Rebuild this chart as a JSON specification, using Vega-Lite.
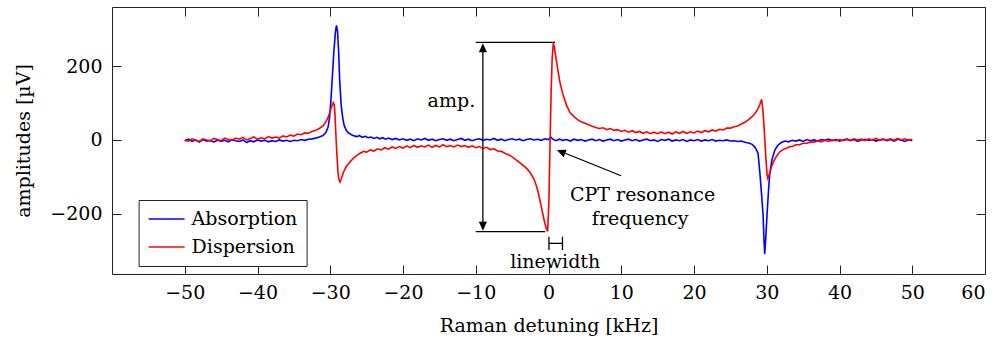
{
"$schema": "https://vega.github.io/schema/vega-lite/v6.json",
"width": 873, "height": 267,
"autosize": "none",
"padding": {"left": 112, "top": 7, "right": 18, "bottom": 66},
"config": {
  "view": {"stroke": "#222", "strokeWidth": 1},
  "font": "DejaVu Serif",
  "axis": {"labelFont": "DejaVu Serif", "labelFontSize": 19, "labelColor": "#000", "titleFont": "DejaVu Serif", "titleFontSize": 19, "titleFontWeight": "normal", "titleColor": "#000", "tickColor": "#222", "tickWidth": 1, "tickSize": -9, "domain": false, "grid": false},
  "legend": {"labelFont": "DejaVu Serif", "labelFontSize": 19, "labelColor": "#000"}
},
"datasets": {
"curves": [
{"s":"Absorption","x":-50,"y":-3},{"s":"Absorption","x":-49.5,"y":2},{"s":"Absorption","x":-49,"y":-4},{"s":"Absorption","x":-48.5,"y":0},{"s":"Absorption","x":-48,"y":-6},{"s":"Absorption","x":-47.5,"y":1},{"s":"Absorption","x":-47,"y":-3},{"s":"Absorption","x":-46.5,"y":-1},{"s":"Absorption","x":-46,"y":-6},{"s":"Absorption","x":-45.5,"y":0},{"s":"Absorption","x":-45,"y":-4},{"s":"Absorption","x":-44.5,"y":-1},{"s":"Absorption","x":-44,"y":-5},{"s":"Absorption","x":-43.5,"y":1},{"s":"Absorption","x":-43,"y":-2},{"s":"Absorption","x":-42.5,"y":-4},{"s":"Absorption","x":-42,"y":0},{"s":"Absorption","x":-41.5,"y":-7},{"s":"Absorption","x":-41,"y":-2},{"s":"Absorption","x":-40.5,"y":-5},{"s":"Absorption","x":-40,"y":0},{"s":"Absorption","x":-39.5,"y":-3},{"s":"Absorption","x":-39,"y":-1},{"s":"Absorption","x":-38.5,"y":-5},{"s":"Absorption","x":-38,"y":-2},{"s":"Absorption","x":-37.5,"y":-4},{"s":"Absorption","x":-37,"y":0},{"s":"Absorption","x":-36.5,"y":-3},{"s":"Absorption","x":-36,"y":-1},{"s":"Absorption","x":-35.5,"y":-4},{"s":"Absorption","x":-35,"y":-1},{"s":"Absorption","x":-34.5,"y":-2},{"s":"Absorption","x":-34,"y":1},{"s":"Absorption","x":-33.5,"y":-1},{"s":"Absorption","x":-33,"y":2},{"s":"Absorption","x":-32.5,"y":3},{"s":"Absorption","x":-32,"y":5},{"s":"Absorption","x":-31.5,"y":8},{"s":"Absorption","x":-31,"y":12},{"s":"Absorption","x":-30.6,"y":20},{"s":"Absorption","x":-30.3,"y":35},{"s":"Absorption","x":-30.1,"y":60},{"s":"Absorption","x":-29.9,"y":110},{"s":"Absorption","x":-29.7,"y":175},{"s":"Absorption","x":-29.5,"y":240},{"s":"Absorption","x":-29.3,"y":290},{"s":"Absorption","x":-29.15,"y":310},{"s":"Absorption","x":-29.0,"y":295},{"s":"Absorption","x":-28.85,"y":240},{"s":"Absorption","x":-28.7,"y":160},{"s":"Absorption","x":-28.5,"y":95},{"s":"Absorption","x":-28.3,"y":62},{"s":"Absorption","x":-28.1,"y":40},{"s":"Absorption","x":-27.8,"y":26},{"s":"Absorption","x":-27.5,"y":19},{"s":"Absorption","x":-27.1,"y":14},{"s":"Absorption","x":-26.7,"y":11},{"s":"Absorption","x":-26.3,"y":9},{"s":"Absorption","x":-26,"y":12},{"s":"Absorption","x":-25.6,"y":7},{"s":"Absorption","x":-25.2,"y":10},{"s":"Absorption","x":-24.8,"y":6},{"s":"Absorption","x":-24.4,"y":8},{"s":"Absorption","x":-24,"y":4},{"s":"Absorption","x":-23.6,"y":7},{"s":"Absorption","x":-23.2,"y":3},{"s":"Absorption","x":-22.8,"y":6},{"s":"Absorption","x":-22.4,"y":2},{"s":"Absorption","x":-22,"y":5},{"s":"Absorption","x":-21.5,"y":1},{"s":"Absorption","x":-21,"y":4},{"s":"Absorption","x":-20.5,"y":0},{"s":"Absorption","x":-20,"y":3},{"s":"Absorption","x":-19.5,"y":-1},{"s":"Absorption","x":-19,"y":2},{"s":"Absorption","x":-18.5,"y":-2},{"s":"Absorption","x":-18,"y":3},{"s":"Absorption","x":-17.5,"y":0},{"s":"Absorption","x":-17,"y":4},{"s":"Absorption","x":-16.5,"y":-1},{"s":"Absorption","x":-16,"y":2},{"s":"Absorption","x":-15.5,"y":-2},{"s":"Absorption","x":-15,"y":1},{"s":"Absorption","x":-14.5,"y":3},{"s":"Absorption","x":-14,"y":-1},{"s":"Absorption","x":-13.5,"y":2},{"s":"Absorption","x":-13,"y":-2},{"s":"Absorption","x":-12.5,"y":1},{"s":"Absorption","x":-12,"y":4},{"s":"Absorption","x":-11.5,"y":-1},{"s":"Absorption","x":-11,"y":2},{"s":"Absorption","x":-10.5,"y":-2},{"s":"Absorption","x":-10,"y":1},{"s":"Absorption","x":-9.5,"y":3},{"s":"Absorption","x":-9,"y":-1},{"s":"Absorption","x":-8.5,"y":2},{"s":"Absorption","x":-8,"y":0},{"s":"Absorption","x":-7.5,"y":4},{"s":"Absorption","x":-7,"y":-1},{"s":"Absorption","x":-6.5,"y":2},{"s":"Absorption","x":-6,"y":-2},{"s":"Absorption","x":-5.5,"y":1},{"s":"Absorption","x":-5,"y":3},{"s":"Absorption","x":-4.5,"y":0},{"s":"Absorption","x":-4,"y":2},{"s":"Absorption","x":-3.5,"y":-2},{"s":"Absorption","x":-3,"y":1},{"s":"Absorption","x":-2.5,"y":3},{"s":"Absorption","x":-2,"y":0},{"s":"Absorption","x":-1.5,"y":2},{"s":"Absorption","x":-1,"y":-1},{"s":"Absorption","x":-0.5,"y":3},{"s":"Absorption","x":0,"y":1},{"s":"Absorption","x":0.3,"y":8},{"s":"Absorption","x":0.6,"y":2},{"s":"Absorption","x":1,"y":-2},{"s":"Absorption","x":1.5,"y":2},{"s":"Absorption","x":2,"y":-1},{"s":"Absorption","x":2.5,"y":1},{"s":"Absorption","x":3,"y":-3},{"s":"Absorption","x":3.5,"y":2},{"s":"Absorption","x":4,"y":-1},{"s":"Absorption","x":4.5,"y":1},{"s":"Absorption","x":5,"y":-3},{"s":"Absorption","x":5.5,"y":0},{"s":"Absorption","x":6,"y":2},{"s":"Absorption","x":6.5,"y":-2},{"s":"Absorption","x":7,"y":1},{"s":"Absorption","x":7.5,"y":-3},{"s":"Absorption","x":8,"y":0},{"s":"Absorption","x":8.5,"y":2},{"s":"Absorption","x":9,"y":-2},{"s":"Absorption","x":9.5,"y":1},{"s":"Absorption","x":10,"y":-3},{"s":"Absorption","x":10.5,"y":0},{"s":"Absorption","x":11,"y":2},{"s":"Absorption","x":11.5,"y":-2},{"s":"Absorption","x":12,"y":1},{"s":"Absorption","x":12.5,"y":-3},{"s":"Absorption","x":13,"y":0},{"s":"Absorption","x":13.5,"y":2},{"s":"Absorption","x":14,"y":-2},{"s":"Absorption","x":14.5,"y":0},{"s":"Absorption","x":15,"y":-4},{"s":"Absorption","x":15.5,"y":1},{"s":"Absorption","x":16,"y":-1},{"s":"Absorption","x":16.5,"y":2},{"s":"Absorption","x":17,"y":-3},{"s":"Absorption","x":17.5,"y":0},{"s":"Absorption","x":18,"y":-2},{"s":"Absorption","x":18.5,"y":1},{"s":"Absorption","x":19,"y":-4},{"s":"Absorption","x":19.5,"y":0},{"s":"Absorption","x":20,"y":-2},{"s":"Absorption","x":20.5,"y":1},{"s":"Absorption","x":21,"y":-3},{"s":"Absorption","x":21.5,"y":0},{"s":"Absorption","x":22,"y":-2},{"s":"Absorption","x":22.5,"y":1},{"s":"Absorption","x":23,"y":-3},{"s":"Absorption","x":23.5,"y":-1},{"s":"Absorption","x":24,"y":-2},{"s":"Absorption","x":24.5,"y":0},{"s":"Absorption","x":25,"y":-3},{"s":"Absorption","x":25.5,"y":-2},{"s":"Absorption","x":26,"y":-4},{"s":"Absorption","x":26.5,"y":-3},{"s":"Absorption","x":27,"y":-6},{"s":"Absorption","x":27.5,"y":-8},{"s":"Absorption","x":28,"y":-12},{"s":"Absorption","x":28.4,"y":-20},{"s":"Absorption","x":28.8,"y":-36},{"s":"Absorption","x":29.05,"y":-88},{"s":"Absorption","x":29.3,"y":-150},{"s":"Absorption","x":29.5,"y":-205},{"s":"Absorption","x":29.62,"y":-270},{"s":"Absorption","x":29.72,"y":-309},{"s":"Absorption","x":29.85,"y":-270},{"s":"Absorption","x":30.05,"y":-199},{"s":"Absorption","x":30.25,"y":-135},{"s":"Absorption","x":30.4,"y":-95},{"s":"Absorption","x":30.7,"y":-55},{"s":"Absorption","x":31.1,"y":-28},{"s":"Absorption","x":31.5,"y":-15},{"s":"Absorption","x":32,"y":-7},{"s":"Absorption","x":32.5,"y":-3},{"s":"Absorption","x":33,"y":-5},{"s":"Absorption","x":33.5,"y":-1},{"s":"Absorption","x":34,"y":-3},{"s":"Absorption","x":34.5,"y":0},{"s":"Absorption","x":35,"y":-4},{"s":"Absorption","x":35.5,"y":1},{"s":"Absorption","x":36,"y":-2},{"s":"Absorption","x":36.5,"y":0},{"s":"Absorption","x":37,"y":-3},{"s":"Absorption","x":37.5,"y":1},{"s":"Absorption","x":38,"y":-1},{"s":"Absorption","x":38.5,"y":2},{"s":"Absorption","x":39,"y":-2},{"s":"Absorption","x":39.5,"y":1},{"s":"Absorption","x":40,"y":-3},{"s":"Absorption","x":40.5,"y":0},{"s":"Absorption","x":41,"y":2},{"s":"Absorption","x":41.5,"y":-2},{"s":"Absorption","x":42,"y":1},{"s":"Absorption","x":42.5,"y":-4},{"s":"Absorption","x":43,"y":0},{"s":"Absorption","x":43.5,"y":2},{"s":"Absorption","x":44,"y":-1},{"s":"Absorption","x":44.5,"y":1},{"s":"Absorption","x":45,"y":-3},{"s":"Absorption","x":45.5,"y":0},{"s":"Absorption","x":46,"y":2},{"s":"Absorption","x":46.5,"y":-2},{"s":"Absorption","x":47,"y":1},{"s":"Absorption","x":47.5,"y":-3},{"s":"Absorption","x":48,"y":2},{"s":"Absorption","x":48.5,"y":-1},{"s":"Absorption","x":49,"y":-4},{"s":"Absorption","x":49.5,"y":1},{"s":"Absorption","x":50,"y":-2},
{"s":"Dispersion","x":-50,"y":0},{"s":"Dispersion","x":-49.5,"y":-3},{"s":"Dispersion","x":-49,"y":3},{"s":"Dispersion","x":-48.5,"y":-1},{"s":"Dispersion","x":-48,"y":-4},{"s":"Dispersion","x":-47.5,"y":3},{"s":"Dispersion","x":-47,"y":0},{"s":"Dispersion","x":-46.5,"y":-3},{"s":"Dispersion","x":-46,"y":4},{"s":"Dispersion","x":-45.5,"y":1},{"s":"Dispersion","x":-45,"y":-2},{"s":"Dispersion","x":-44.5,"y":5},{"s":"Dispersion","x":-44,"y":1},{"s":"Dispersion","x":-43.5,"y":-1},{"s":"Dispersion","x":-43,"y":5},{"s":"Dispersion","x":-42.5,"y":2},{"s":"Dispersion","x":-42,"y":7},{"s":"Dispersion","x":-41.5,"y":0},{"s":"Dispersion","x":-41,"y":4},{"s":"Dispersion","x":-40.5,"y":8},{"s":"Dispersion","x":-40,"y":2},{"s":"Dispersion","x":-39.5,"y":6},{"s":"Dispersion","x":-39,"y":3},{"s":"Dispersion","x":-38.5,"y":9},{"s":"Dispersion","x":-38,"y":5},{"s":"Dispersion","x":-37.5,"y":8},{"s":"Dispersion","x":-37,"y":5},{"s":"Dispersion","x":-36.5,"y":11},{"s":"Dispersion","x":-36,"y":8},{"s":"Dispersion","x":-35.5,"y":13},{"s":"Dispersion","x":-35,"y":10},{"s":"Dispersion","x":-34.5,"y":16},{"s":"Dispersion","x":-34,"y":14},{"s":"Dispersion","x":-33.5,"y":19},{"s":"Dispersion","x":-33,"y":18},{"s":"Dispersion","x":-32.5,"y":23},{"s":"Dispersion","x":-32,"y":26},{"s":"Dispersion","x":-31.5,"y":31},{"s":"Dispersion","x":-31,"y":38},{"s":"Dispersion","x":-30.7,"y":46},{"s":"Dispersion","x":-30.4,"y":56},{"s":"Dispersion","x":-30.1,"y":72},{"s":"Dispersion","x":-29.85,"y":88},{"s":"Dispersion","x":-29.6,"y":101},{"s":"Dispersion","x":-29.45,"y":96},{"s":"Dispersion","x":-29.35,"y":70},{"s":"Dispersion","x":-29.25,"y":25},{"s":"Dispersion","x":-29.1,"y":-35},{"s":"Dispersion","x":-28.95,"y":-85},{"s":"Dispersion","x":-28.8,"y":-108},{"s":"Dispersion","x":-28.65,"y":-114},{"s":"Dispersion","x":-28.45,"y":-104},{"s":"Dispersion","x":-28.2,"y":-88},{"s":"Dispersion","x":-27.8,"y":-72},{"s":"Dispersion","x":-27.3,"y":-60},{"s":"Dispersion","x":-26.8,"y":-49},{"s":"Dispersion","x":-26.3,"y":-41},{"s":"Dispersion","x":-25.9,"y":-36},{"s":"Dispersion","x":-25.4,"y":-31},{"s":"Dispersion","x":-25,"y":-33},{"s":"Dispersion","x":-24.5,"y":-27},{"s":"Dispersion","x":-24,"y":-30},{"s":"Dispersion","x":-23.5,"y":-24},{"s":"Dispersion","x":-23,"y":-27},{"s":"Dispersion","x":-22.5,"y":-21},{"s":"Dispersion","x":-22,"y":-25},{"s":"Dispersion","x":-21.5,"y":-19},{"s":"Dispersion","x":-21,"y":-23},{"s":"Dispersion","x":-20.5,"y":-18},{"s":"Dispersion","x":-20,"y":-22},{"s":"Dispersion","x":-19.5,"y":-16},{"s":"Dispersion","x":-19,"y":-21},{"s":"Dispersion","x":-18.5,"y":-15},{"s":"Dispersion","x":-18,"y":-20},{"s":"Dispersion","x":-17.5,"y":-16},{"s":"Dispersion","x":-17,"y":-19},{"s":"Dispersion","x":-16.5,"y":-14},{"s":"Dispersion","x":-16,"y":-20},{"s":"Dispersion","x":-15.5,"y":-15},{"s":"Dispersion","x":-15,"y":-19},{"s":"Dispersion","x":-14.5,"y":-13},{"s":"Dispersion","x":-14,"y":-18},{"s":"Dispersion","x":-13.5,"y":-15},{"s":"Dispersion","x":-13,"y":-19},{"s":"Dispersion","x":-12.5,"y":-14},{"s":"Dispersion","x":-12,"y":-18},{"s":"Dispersion","x":-11.5,"y":-15},{"s":"Dispersion","x":-11,"y":-20},{"s":"Dispersion","x":-10.5,"y":-16},{"s":"Dispersion","x":-10,"y":-21},{"s":"Dispersion","x":-9.5,"y":-18},{"s":"Dispersion","x":-9,"y":-23},{"s":"Dispersion","x":-8.5,"y":-20},{"s":"Dispersion","x":-8,"y":-26},{"s":"Dispersion","x":-7.5,"y":-24},{"s":"Dispersion","x":-7,"y":-30},{"s":"Dispersion","x":-6.5,"y":-31},{"s":"Dispersion","x":-6,"y":-36},{"s":"Dispersion","x":-5.5,"y":-40},{"s":"Dispersion","x":-5,"y":-46},{"s":"Dispersion","x":-4.5,"y":-53},{"s":"Dispersion","x":-4,"y":-61},{"s":"Dispersion","x":-3.5,"y":-69},{"s":"Dispersion","x":-3,"y":-77},{"s":"Dispersion","x":-2.5,"y":-89},{"s":"Dispersion","x":-2,"y":-106},{"s":"Dispersion","x":-1.7,"y":-122},{"s":"Dispersion","x":-1.4,"y":-143},{"s":"Dispersion","x":-1.1,"y":-170},{"s":"Dispersion","x":-0.9,"y":-190},{"s":"Dispersion","x":-0.7,"y":-208},{"s":"Dispersion","x":-0.5,"y":-226},{"s":"Dispersion","x":-0.3,"y":-240},{"s":"Dispersion","x":-0.12,"y":-248},{"s":"Dispersion","x":0.05,"y":-170},{"s":"Dispersion","x":0.2,"y":-20},{"s":"Dispersion","x":0.35,"y":120},{"s":"Dispersion","x":0.5,"y":220},{"s":"Dispersion","x":0.66,"y":262},{"s":"Dispersion","x":0.8,"y":252},{"s":"Dispersion","x":1.0,"y":225},{"s":"Dispersion","x":1.3,"y":188},{"s":"Dispersion","x":1.58,"y":155},{"s":"Dispersion","x":2,"y":122},{"s":"Dispersion","x":2.5,"y":93},{"s":"Dispersion","x":2.95,"y":74},{"s":"Dispersion","x":3.5,"y":63},{"s":"Dispersion","x":4,"y":55},{"s":"Dispersion","x":4.5,"y":49},{"s":"Dispersion","x":5,"y":45},{"s":"Dispersion","x":5.5,"y":41},{"s":"Dispersion","x":6,"y":37},{"s":"Dispersion","x":6.6,"y":33},{"s":"Dispersion","x":7,"y":31},{"s":"Dispersion","x":7.5,"y":33},{"s":"Dispersion","x":8,"y":28},{"s":"Dispersion","x":8.5,"y":31},{"s":"Dispersion","x":9,"y":26},{"s":"Dispersion","x":9.5,"y":28},{"s":"Dispersion","x":10,"y":23},{"s":"Dispersion","x":10.5,"y":26},{"s":"Dispersion","x":11,"y":21},{"s":"Dispersion","x":11.5,"y":25},{"s":"Dispersion","x":12,"y":20},{"s":"Dispersion","x":12.5,"y":23},{"s":"Dispersion","x":13,"y":18},{"s":"Dispersion","x":13.5,"y":22},{"s":"Dispersion","x":14,"y":17},{"s":"Dispersion","x":14.5,"y":21},{"s":"Dispersion","x":15,"y":17},{"s":"Dispersion","x":15.5,"y":22},{"s":"Dispersion","x":16,"y":17},{"s":"Dispersion","x":16.5,"y":21},{"s":"Dispersion","x":17,"y":16},{"s":"Dispersion","x":17.5,"y":22},{"s":"Dispersion","x":18,"y":18},{"s":"Dispersion","x":18.5,"y":23},{"s":"Dispersion","x":19,"y":18},{"s":"Dispersion","x":19.5,"y":22},{"s":"Dispersion","x":20,"y":19},{"s":"Dispersion","x":20.5,"y":24},{"s":"Dispersion","x":21,"y":20},{"s":"Dispersion","x":21.5,"y":25},{"s":"Dispersion","x":22,"y":22},{"s":"Dispersion","x":22.5,"y":27},{"s":"Dispersion","x":23,"y":24},{"s":"Dispersion","x":23.5,"y":29},{"s":"Dispersion","x":24,"y":27},{"s":"Dispersion","x":24.5,"y":32},{"s":"Dispersion","x":25,"y":32},{"s":"Dispersion","x":25.5,"y":36},{"s":"Dispersion","x":26,"y":38},{"s":"Dispersion","x":26.5,"y":43},{"s":"Dispersion","x":27,"y":48},{"s":"Dispersion","x":27.5,"y":55},{"s":"Dispersion","x":28,"y":63},{"s":"Dispersion","x":28.5,"y":75},{"s":"Dispersion","x":28.8,"y":85},{"s":"Dispersion","x":29.05,"y":96},{"s":"Dispersion","x":29.3,"y":110},{"s":"Dispersion","x":29.45,"y":85},{"s":"Dispersion","x":29.6,"y":45},{"s":"Dispersion","x":29.75,"y":-5},{"s":"Dispersion","x":29.9,"y":-55},{"s":"Dispersion","x":30.05,"y":-95},{"s":"Dispersion","x":30.15,"y":-104},{"s":"Dispersion","x":30.3,"y":-96},{"s":"Dispersion","x":30.6,"y":-76},{"s":"Dispersion","x":30.9,"y":-60},{"s":"Dispersion","x":31.3,"y":-45},{"s":"Dispersion","x":31.8,"y":-32},{"s":"Dispersion","x":32.3,"y":-25},{"s":"Dispersion","x":32.8,"y":-22},{"s":"Dispersion","x":33.2,"y":-18},{"s":"Dispersion","x":33.6,"y":-17},{"s":"Dispersion","x":34,"y":-13},{"s":"Dispersion","x":34.5,"y":-13},{"s":"Dispersion","x":35,"y":-9},{"s":"Dispersion","x":35.5,"y":-9},{"s":"Dispersion","x":36,"y":-6},{"s":"Dispersion","x":36.5,"y":-6},{"s":"Dispersion","x":37,"y":-3},{"s":"Dispersion","x":37.5,"y":-5},{"s":"Dispersion","x":38,"y":-1},{"s":"Dispersion","x":38.5,"y":-4},{"s":"Dispersion","x":39,"y":0},{"s":"Dispersion","x":39.5,"y":-2},{"s":"Dispersion","x":40,"y":1},{"s":"Dispersion","x":40.5,"y":-2},{"s":"Dispersion","x":41,"y":2},{"s":"Dispersion","x":41.5,"y":-1},{"s":"Dispersion","x":42,"y":3},{"s":"Dispersion","x":42.5,"y":0},{"s":"Dispersion","x":43,"y":2},{"s":"Dispersion","x":43.5,"y":-2},{"s":"Dispersion","x":44,"y":3},{"s":"Dispersion","x":44.5,"y":0},{"s":"Dispersion","x":45,"y":4},{"s":"Dispersion","x":45.5,"y":-1},{"s":"Dispersion","x":46,"y":2},{"s":"Dispersion","x":46.5,"y":0},{"s":"Dispersion","x":47,"y":3},{"s":"Dispersion","x":47.5,"y":-1},{"s":"Dispersion","x":48,"y":4},{"s":"Dispersion","x":48.5,"y":0},{"s":"Dispersion","x":49,"y":3},{"s":"Dispersion","x":49.5,"y":-1},{"s":"Dispersion","x":50,"y":2}
],
"rules": [
{"x":-10,"x2":0.91,"y":264,"y2":264},
{"x":-10,"x2":-0.46,"y":-248,"y2":-248},
{"x":-9.02,"x2":-9.02,"y":238,"y2":-222},
{"x":0.06,"x2":1.92,"y":-280,"y2":-280},
{"x":0.06,"x2":0.06,"y":-262,"y2":-298},
{"x":1.92,"x2":1.92,"y":-262,"y2":-298},
{"x":9.98,"x2":2.3,"y":-97,"y2":-36}
]
},
"layer": [
{
  "data": {"name": "curves"},
  "mark": {"type": "line", "strokeWidth": 1.6},
  "encoding": {
    "x": {"field": "x", "type": "quantitative", "scale": {"domain": [-60, 60], "nice": false, "zero": false},
          "axis": {"orient": "bottom", "values": [-50,-40,-30,-20,-10,0,10,20,30,40,50,60], "title": "Raman detuning [kHz]", "labelPadding": 18, "titleBaseline": "alphabetic", "titleX": 436.5, "titleY": 57.5}},
    "y": {"field": "y", "type": "quantitative", "scale": {"domain": [-363, 360], "nice": false, "zero": false},
          "axis": {"orient": "left", "values": [-200, 0, 200], "title": "amplitudes [µV]", "labelPadding": 19, "titleBaseline": "alphabetic", "titleX": -82.5, "titleY": 133.5, "titleAngle": -90, "titleAlign": "center"}},
    "color": {"field": "s", "type": "nominal", "scale": {"domain": ["Absorption", "Dispersion"], "range": ["#0000ff", "#ff0000"]},
      "legend": {"title": null, "orient": "none", "legendX": 26.6, "legendY": 193, "direction": "vertical", "strokeColor": "#222", "fillColor": "#ffffff", "padding": 9, "rowPadding": 8, "symbolType": "M-1,0H3", "symbolSize": 324, "symbolStrokeWidth": 1.5, "labelOffset": 24, "cornerRadius": 0}}
  }
},
{
  "data": {"name": "rules"},
  "mark": {"type": "rule", "color": "#000", "strokeWidth": 1.3},
  "encoding": {
    "x": {"field": "x", "type": "quantitative", "scale": {"domain": [-60, 60], "nice": false, "zero": false},
          "axis": {"orient": "top", "values": [-50,-40,-30,-20,-10,0,10,20,30,40,50,60], "labels": false, "title": null}},
    "x2": {"field": "x2"},
    "y": {"field": "y", "type": "quantitative", "scale": {"domain": [-363, 360], "nice": false, "zero": false},
          "axis": {"orient": "right", "values": [-200, 0, 200], "labels": false, "title": null}},
    "y2": {"field": "y2"}
  }
},
{
  "data": {"values": [{"x": -9.02, "y": 249.5}]},
  "mark": {"type": "point", "shape": "M0,-1L0.9,1L-0.9,1Z", "size": 81, "filled": true, "color": "#000", "opacity": 1, "strokeWidth": 0},
  "encoding": {"x": {"field": "x", "type": "quantitative", "axis": null}, "y": {"field": "y", "type": "quantitative", "axis": null}}
},
{
  "data": {"values": [{"x": -9.02, "y": -233.6}]},
  "mark": {"type": "point", "shape": "M0,1L0.9,-1L-0.9,-1Z", "size": 81, "filled": true, "color": "#000", "opacity": 1, "strokeWidth": 0},
  "encoding": {"x": {"field": "x", "type": "quantitative", "axis": null}, "y": {"field": "y", "type": "quantitative", "axis": null}}
},
{
  "data": {"values": [{"x": 1.72, "y": -31.9}]},
  "mark": {"type": "point", "shape": "M0,-1L0.9,1L-0.9,1Z", "size": 81, "filled": true, "color": "#000", "opacity": 1, "strokeWidth": 0, "angle": 291.8},
  "encoding": {"x": {"field": "x", "type": "quantitative", "axis": null}, "y": {"field": "y", "type": "quantitative", "axis": null}}
},
{
  "data": {"values": [{"x": -10.08, "y": 88, "t": "amp."}]},
  "mark": {"type": "text", "align": "right", "baseline": "alphabetic", "font": "DejaVu Serif", "fontSize": 19, "color": "#000"},
  "encoding": {"x": {"field": "x", "type": "quantitative", "axis": null}, "y": {"field": "y", "type": "quantitative", "axis": null}, "text": {"field": "t"}}
},
{
  "data": {"values": [{"x": 0.92, "y": -347.6, "t": "linewidth"}, {"x": 12.94, "y": -165.4, "t": "CPT resonance"}, {"x": 12.6, "y": -229, "t": "frequency"}]},
  "mark": {"type": "text", "align": "center", "baseline": "alphabetic", "font": "DejaVu Serif", "fontSize": 19, "color": "#000"},
  "encoding": {"x": {"field": "x", "type": "quantitative", "axis": null}, "y": {"field": "y", "type": "quantitative", "axis": null}, "text": {"field": "t"}}
}
],
"resolve": {"axis": {"x": "independent", "y": "independent"}}
}
